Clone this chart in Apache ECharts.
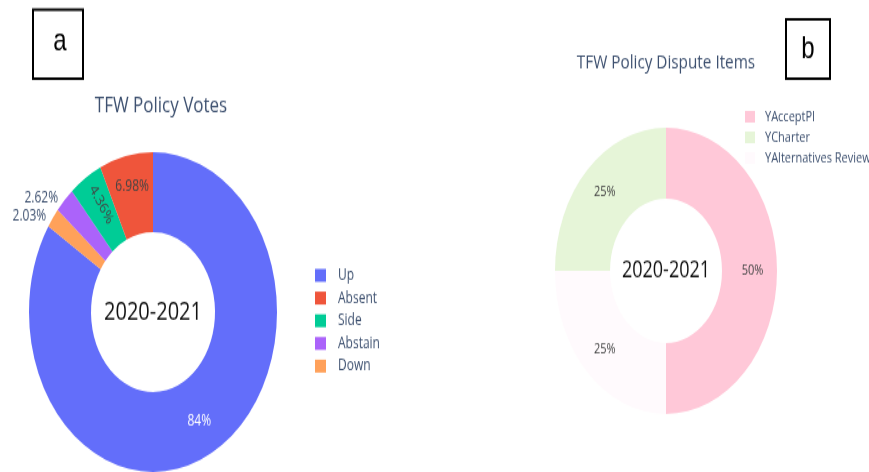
<!DOCTYPE html>
<html>
<head>
<meta charset="utf-8">
<script src="https://cdn.jsdelivr.net/npm/echarts@6/dist/echarts.min.js"></script>
<style>
  html, body { margin: 0; padding: 0; background: #fff; overflow: hidden; }
  #wrap { width: 869px; height: 472px; overflow: hidden; }
  #chart { width: 869px; height: 366px; transform: scaleY(1.2896); transform-origin: 0 0; }
</style>
</head>
<body>
<div id="wrap"><div id="chart"></div></div>
<script>
// ---- data ----
const voteTitle = 'TFW Policy Votes';
const voteCategories = ['Up', 'Absent', 'Side', 'Abstain', 'Down'];
const voteValues = [84, 6.98, 4.36, 2.62, 2.03];

const disputeTitle = 'TFW Policy Dispute Items';
const disputeCategories = ['YAcceptPI', 'YCharter', 'YAlternatives Review'];
const disputeValues = [50, 25, 25];

const centerLabel = '2020-2021';
const panelLetters = ['a', 'b'];

// ---- styles ----
const voteColors = ['#636efa', '#ef553b', '#00cc96', '#ab63fa', '#ffa15a'];
const disputeColors = ['#ffc8d8', '#e6f5d8', '#fffafd'];
const slate = '#3e5170';
const FONT = '"Open Sans", "Noto Sans", sans-serif';

// per-slice label styles for vote pie (by legend index)
const voteLabelStyles = [
  { position: 'inside', color: '#ffffff' },
  { position: 'inside', color: '#444444', offset: [0, -4] },
  { position: 'inside', color: '#444444', rotate: -57, offset: [-2, -2] },
  { position: 'outside', color: slate },
  { position: 'outside', color: slate }
];

// display order: first slice clockwise from top, then remaining in reverse
function displayOrder(n) {
  const order = [0];
  for (let i = n - 1; i >= 1; i--) order.push(i);
  return order;
}

const voteData = displayOrder(voteCategories.length).map(i => ({
  name: voteCategories[i],
  value: voteValues[i],
  itemStyle: { color: voteColors[i] },
  label: Object.assign({ show: true, fontSize: 12, fontFamily: FONT }, voteLabelStyles[i]),
  labelLine: { show: false, length: 2, length2: 0 }
}));

const disputeData = displayOrder(disputeCategories.length).map(i => ({
  name: disputeCategories[i],
  value: disputeValues[i],
  itemStyle: { color: disputeColors[i] }
}));

const chart = echarts.init(document.getElementById('chart'), null, { renderer: 'canvas' });

const option = {
  backgroundColor: '#ffffff',
  animation: false,
  title: [
    { text: voteTitle, left: 156, top: 68.5, textAlign: 'center',
      textStyle: { fontFamily: FONT, fontSize: 17, fontWeight: 'normal', color: slate } },
    { text: disputeTitle, left: 661, top: 36, textAlign: 'center',
      textStyle: { fontFamily: FONT, fontSize: 15.3, fontWeight: 'normal', color: slate } }
  ],
  legend: [
    {
      data: voteCategories,
      orient: 'vertical',
      left: 315, top: 207.5,
      padding: 0,
      itemWidth: 11, itemHeight: 10, itemGap: 5.6,
      icon: 'rect',
      textStyle: { fontFamily: FONT, fontSize: 12, color: slate, padding: [0, 0, 0, 7] },
      selectedMode: false
    },
    {
      data: disputeCategories,
      orient: 'vertical',
      left: 743, top: 84,
      padding: [1, 2, 1, 2],
      backgroundColor: '#ffffff',
      itemWidth: 10, itemHeight: 9, itemGap: 5,
      icon: 'rect',
      textStyle: { fontFamily: FONT, fontSize: 11, color: slate, padding: [0, 0, 0, 5] },
      selectedMode: false
    }
  ],
  series: [
    {
      name: voteTitle,
      type: 'pie',
      center: [153, 242],
      radius: [62, 124],
      startAngle: 90,
      clockwise: true,
      avoidLabelOverlap: true,
      silent: true,
      label: { show: true, formatter: '{c}%', fontFamily: FONT, fontSize: 12 },
      labelLine: { show: false },
      data: voteData
    },
    {
      name: disputeTitle,
      type: 'pie',
      center: [666, 210],
      radius: [56, 111],
      startAngle: 90,
      clockwise: true,
      silent: true,
      label: { show: true, position: 'inside', formatter: '{c}%', fontFamily: FONT, fontSize: 11, color: '#444444' },
      labelLine: { show: false },
      data: disputeData
    }
  ],
  graphic: [
    { type: 'rect', shape: { x: 33, y: 7.5, width: 50, height: 53.5 },
      style: { fill: '#ffffff', stroke: '#000000', lineWidth: 2 } },
    { type: 'text', x: 60, y: 32,
      style: { text: panelLetters[0], align: 'center', verticalAlign: 'middle', font: '24px "Liberation Sans", sans-serif', fill: '#000' } },
    { type: 'rect', shape: { x: 786, y: 15, width: 44, height: 46 },
      style: { fill: '#ffffff', stroke: '#000000', lineWidth: 2 } },
    { type: 'text', x: 808, y: 38,
      style: { text: panelLetters[1], align: 'center', verticalAlign: 'middle', font: '24px "Liberation Sans", sans-serif', fill: '#000' } },
    { type: 'text', x: 153, y: 242, z: 10,
      style: { text: centerLabel, align: 'center', verticalAlign: 'middle', font: '20px ' + FONT, fill: '#111' } },
    { type: 'text', x: 666, y: 210, z: 10,
      style: { text: centerLabel, align: 'center', verticalAlign: 'middle', font: '18px ' + FONT, fill: '#111' } }
  ]
};

chart.setOption(option);
</script>
</body>
</html>
